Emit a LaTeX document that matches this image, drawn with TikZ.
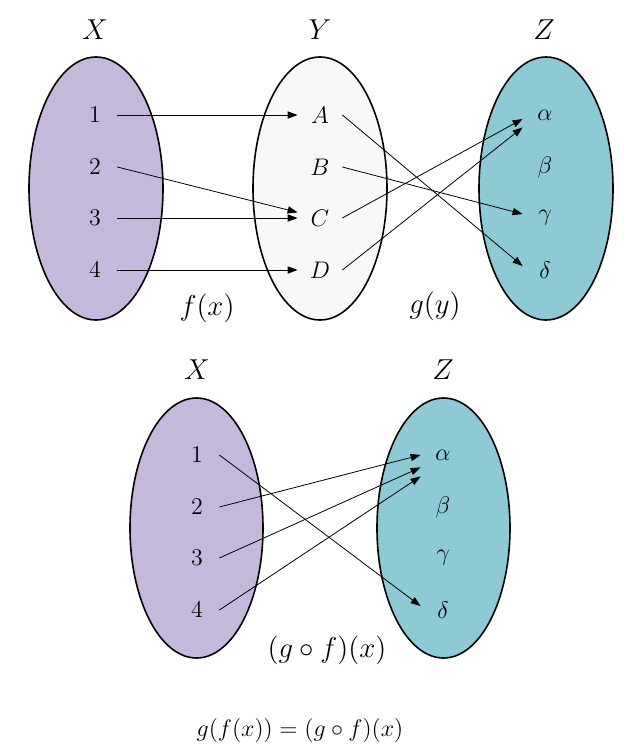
\documentclass[tikz,border=0pt]{standalone}
\usepackage{amsmath}
\usepackage{amssymb}
\usepackage{tikz}
\usetikzlibrary{arrows.meta}
\usepackage{xcolor}
\definecolor{lila}{RGB}{197,185,219}
\definecolor{blanc}{RGB}{248,248,248}
\definecolor{turquesa}{RGB}{141,202,211}

\begin{document}
\begin{tikzpicture}[
    x=0.5pt, y=-0.5pt,
    >={Triangle[length=5pt,width=3.6pt]},
    conjunt/.style={draw=black, line width=0.8pt},
    elem/.style={inner sep=0pt, minimum width=22pt, minimum height=12pt,
        font=\fontsize{12}{14}\selectfont},
    nom/.style={font=\fontsize{14.5}{17}\selectfont},
    funcio/.style={font=\fontsize{15.5}{18}\selectfont},
    fletxa/.style={->, line width=0.4pt}
]
\useasboundingbox (0,0) rectangle (624,745);

% Conjunts de dalt
\draw[
    conjunt,
    fill=lila
] (96,188.5) ellipse [x radius=67, y radius=131.5];
\draw[
    conjunt,
    fill=blanc
] (320,188.5) ellipse [x radius=67, y radius=131.5];
\draw[
    conjunt,
    fill=turquesa
] (546,188.5) ellipse [x radius=67, y radius=131.5];

% Noms dels conjunts
\node[nom] (tX) at (95,30) {$X$};
\node[nom] (tY) at (320,30) {$Y$};
\node[nom] (tZ) at (544,30) {$Z$};

% Elements
\foreach \n/\y in {1/115,2/167,3/218,4/270}
    \node[elem] (x\n) at (95,\y) {$\n$};
\foreach \n/\l/\y in {1/A/115,2/B/167,3/C/218,4/D/270}
    \node[elem] (y\n) at (320,\y) {$\l$};
\foreach \n/\l/\y in {1/\alpha/115,2/\beta/167,3/\gamma/218,4/\delta/270}
    \node[elem] (z\n) at (545,\y) {$\l$};

% f
\draw[fletxa] (x1.east) -- (y1.west);
\draw[fletxa] (x2.east) -- (y3);
\draw[fletxa] (x3.east) -- (y3.west);
\draw[fletxa] (x4.east) -- (y4.west);
\node[funcio] (lf) at (207,308) {$f(x)$};

% g
\draw[fletxa] (y1.east) -- (z4.170);
\draw[fletxa] (y2.east) -- (z3.170);
\draw[fletxa] (y3.east) -- (z1.190);
\draw[fletxa] (y4.east) -- (z1.south west);
\node[funcio] (lg) at (435,306) {$g(y)$};

% Composicio
\draw[
    conjunt,
    fill=lila
] (196.5,528) ellipse [x radius=66.5, y radius=130];
\draw[
    conjunt,
    fill=turquesa
] (443.5,528) ellipse [x radius=66.5, y radius=130];

\node[nom] (bX) at (197,370) {$X$};
\node[nom] (bZ) at (443,370) {$Z$};

\foreach \n/\y in {1/455,2/507,3/558,4/610}
    \node[elem] (bx\n) at (197,\y) {$\n$};
\foreach \n/\l/\y in {1/\alpha/455,2/\beta/507,3/\gamma/558,4/\delta/610}
    \node[elem] (bz\n) at (443,\y) {$\l$};

\draw[fletxa] (bx1.east) -- (bz4.170);
\draw[fletxa] (bx2.east) -- (bz1.west);
\draw[fletxa] (bx3.east) -- (bz1.south west);
\draw[fletxa] (bx4.east) -- ([yshift=-4.5pt]bz1.south west);
\node[funcio] (lgf) at (327,650) {$(g\circ f)(x)$};

% Igualtat
\node[font=\fontsize{12}{14}\selectfont] (eq) at (300,730)
    {$g(f(x))=(g\circ f)(x)$};

\end{tikzpicture}
\end{document}
